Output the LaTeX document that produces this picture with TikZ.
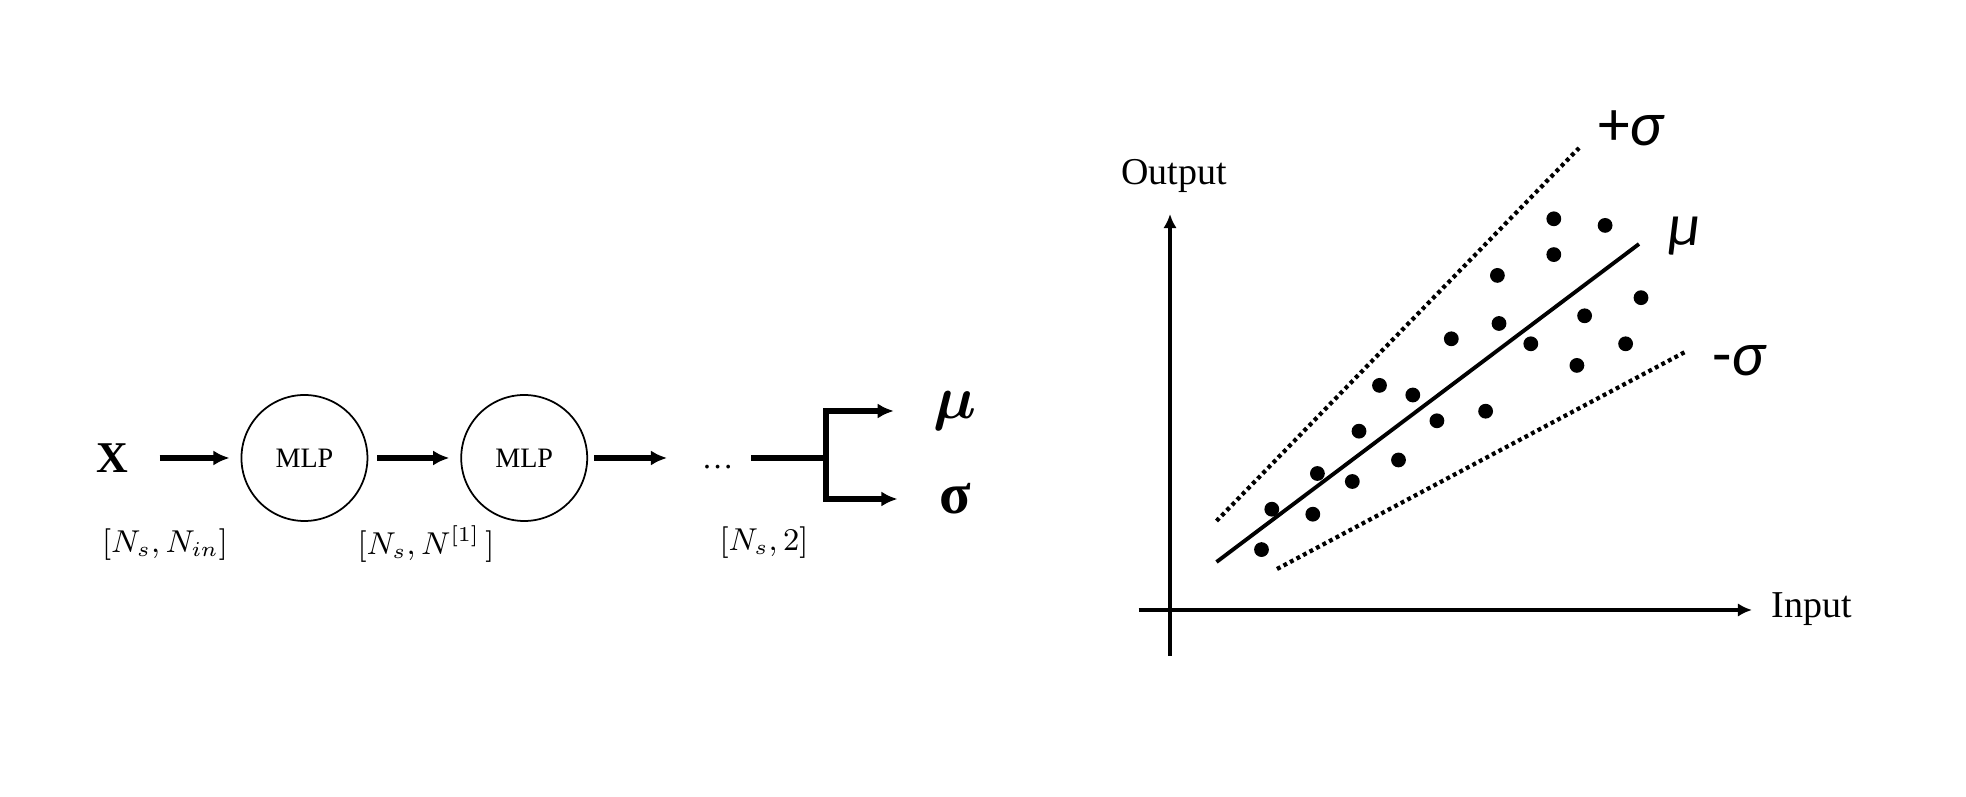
\documentclass[tikz,border=0pt]{standalone}
\usepackage{amsmath}
\usepackage{fontspec}
\setmainfont{Liberation Serif}
\newfontfamily\lblfont{Carlito}
\usetikzlibrary{positioning,arrows.meta}

\begin{document}
\begin{tikzpicture}[>={Latex[length=4.6pt,width=4.3pt]}, inner sep=0pt]
  \useasboundingbox (0,0) rectangle (19.66,7.97);
  \node[font=\fontsize{12.5}{14}\selectfont] (x) at (1.12,3.39) {$\mathbf{X}$};
  \node[draw, circle, line width=0.5pt, minimum size=1.26cm, font=\fontsize{8}{10}\selectfont, right=11.2mm of x] (mlp1) {MLP};
  \node[draw, circle, line width=0.5pt, minimum size=1.26cm, font=\fontsize{8}{10}\selectfont, right=9.2mm of mlp1] (mlp2) {MLP};
  \node[font=\fontsize{9}{11}\selectfont, text height=2.1mm, text depth=0pt, right=11.3mm of mlp2] (dots) {…};
  \coordinate[right=9.2mm of dots] (split);
  \node[font=\fontsize{16}{18}\selectfont] (mu) at (9.55,3.86) {$\boldsymbol{\mu}$};
  \node[font=\fontsize{16.5}{18}\selectfont\bfseries] (sig) at (9.55,2.98) {σ};
  \node[font=\fontsize{8.6}{11}\selectfont] (dimin) at (1.65,2.52) {$[N_s, N_{in}]$};
  \node[font=\fontsize{8.6}{11}\selectfont] (dimhid) at (4.26,2.53) {$[N_s, N^{[1]}\,]$};
  \node[font=\fontsize{8.6}{11}\selectfont] (dimout) at (7.64,2.54) {$[N_s, 2]$};

  \draw[->, line width=1.6pt, shorten <=3.1mm, shorten >=1.1mm] (x) -- (mlp1);
  \draw[->, line width=1.6pt, shorten <=0.9mm, shorten >=1.1mm] (mlp1) -- (mlp2);
  \draw[->, line width=1.6pt, shorten <=0.6mm, shorten >=3.4mm] (mlp2) -- (dots);
  \draw[line width=1.6pt, shorten <=1.7mm] (dots) -- (split);
  \draw[->, line width=1.6pt, shorten >=3.9mm] (split) |- (mu);
  \draw[->, line width=1.6pt, shorten >=4.1mm] (split) |- (sig);

  \coordinate (ybot) at (11.70,1.41);
  \coordinate (ytop) at (11.70,5.83);
  \coordinate (xl) at (11.385,1.87);
  \coordinate (xr) at (17.52,1.87);
  \draw[-{Latex[length=4pt,width=3.8pt]}, line width=1.3pt] (ybot) -- (ytop);
  \draw[-{Latex[length=4pt,width=3.8pt]}, line width=1.3pt] (xl) -- (xr);
  \node[font=\fontsize{10.8}{13}\selectfont] (outlbl) at (11.74,6.21) {Output};
  \node[font=\fontsize{10.8}{13}\selectfont] (inlbl) at (18.12,1.88) {Input};

  \coordinate (mua) at (12.165,2.35);
  \coordinate (mub) at (16.39,5.53);
  \coordinate (upa) at (12.165,2.76);
  \coordinate (upb) at (15.79,6.49);
  \coordinate (loa) at (12.77,2.28);
  \coordinate (lob) at (16.85,4.45);
  \draw[line width=1.1pt] (mua) -- (mub);
  \draw[line width=1.2pt, dash pattern=on 1.1pt off 1pt] (upa) -- (upb);
  \draw[line width=1.2pt, dash pattern=on 1.1pt off 1pt] (loa) -- (lob);
  \node[font=\lblfont\fontsize{18}{20}\selectfont] (uplbl) at (16.32,6.69) {+\textit{σ}};
  \node[font=\lblfont\fontsize{17}{19}\selectfont] (mulbl) at (16.85,5.61) {\textit{μ}};
  \node[font=\lblfont\fontsize{18}{20}\selectfont] (lolbl) at (17.40,4.36) {-\textit{σ}};

  \foreach \x/\y in {12.615/2.474, 12.718/2.878, 13.128/2.828, 13.174/3.235, 13.523/3.155,
    13.59/3.658, 13.985/3.37, 13.795/4.116, 14.128/4.02, 14.369/3.762, 14.513/4.582,
    14.856/3.858, 14.99/4.735, 14.974/5.216, 15.308/4.532, 15.538/5.782, 15.538/5.424,
    15.769/4.316, 15.846/4.812, 16.051/5.716, 16.256/4.532, 16.41/4.993}
    \fill (\x,\y) circle (0.074);
\end{tikzpicture}
\end{document}
